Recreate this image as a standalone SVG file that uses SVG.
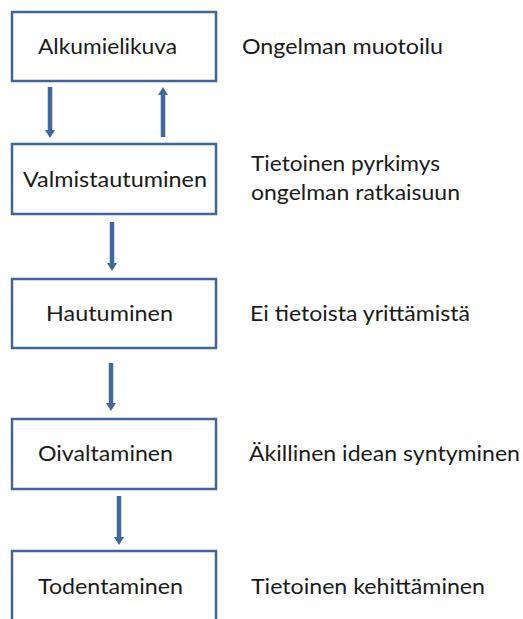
<svg xmlns="http://www.w3.org/2000/svg" width="523" height="619" viewBox="0 0 523 619">
<style>
.box{fill:#ffffff;stroke:#41659a;stroke-width:2.5}
.t{font-family:Lato,"Open Sans","Liberation Sans",sans-serif;font-size:22px;fill:#1a1a1a}
.c{stroke:#41679e;stroke-width:4.5;fill:none;marker-end:url(#ah)}
</style>
<defs>
<marker id="ah" markerUnits="userSpaceOnUse" viewBox="0 0 8 10" markerWidth="8" markerHeight="10" refX="0" refY="5" orient="auto">
<path d="M0,0 L8,5 L0,10 z" fill="#41679e"/>
</marker>
</defs>
<rect width="523" height="619" fill="#ffffff"/>
<g id="connectors">
<line class="c" x1="50" y1="87" x2="50" y2="130"/>
<line class="c" x1="163" y1="137" x2="163" y2="95"/>
<line class="c" x1="112" y1="222" x2="112" y2="263"/>
<line class="c" x1="111" y1="363" x2="111" y2="403"/>
<line class="c" x1="119" y1="496" x2="119" y2="537"/>
</g>
<g id="alkumielikuva">
<rect class="box" x="12" y="12" width="204" height="69"/>
<text class="t" x="38" y="54" textLength="139" lengthAdjust="spacingAndGlyphs">Alkumielikuva</text>
</g>
<g id="valmistautuminen">
<rect class="box" x="12" y="144" width="204" height="70"/>
<text class="t" x="23" y="187" textLength="184" lengthAdjust="spacingAndGlyphs">Valmistautuminen</text>
</g>
<g id="hautuminen">
<rect class="box" x="12" y="279" width="204" height="69"/>
<text class="t" x="46" y="321" textLength="127" lengthAdjust="spacingAndGlyphs">Hautuminen</text>
</g>
<g id="oivaltaminen">
<rect class="box" x="12" y="419" width="204" height="70"/>
<text class="t" x="38" y="461" textLength="135" lengthAdjust="spacingAndGlyphs">Oivaltaminen</text>
</g>
<g id="todentaminen">
<rect class="box" x="12" y="551" width="204" height="80"/>
<text class="t" x="38" y="594" textLength="145" lengthAdjust="spacingAndGlyphs">Todentaminen</text>
</g>
<g id="labels">
<text class="t" x="242" y="54" textLength="201" lengthAdjust="spacingAndGlyphs">Ongelman muotoilu</text>
<text class="t" x="251" y="171" textLength="189" lengthAdjust="spacingAndGlyphs">Tietoinen pyrkimys</text>
<text class="t" x="251" y="200" textLength="209" lengthAdjust="spacingAndGlyphs">ongelman ratkaisuun</text>
<text class="t" x="250" y="321" textLength="220" lengthAdjust="spacingAndGlyphs">Ei tietoista yrittämistä</text>
<text class="t" x="249" y="461" textLength="271" lengthAdjust="spacingAndGlyphs">Äkillinen idean syntyminen</text>
<text class="t" x="251" y="594" textLength="234" lengthAdjust="spacingAndGlyphs">Tietoinen kehittäminen</text>
</g>
</svg>
